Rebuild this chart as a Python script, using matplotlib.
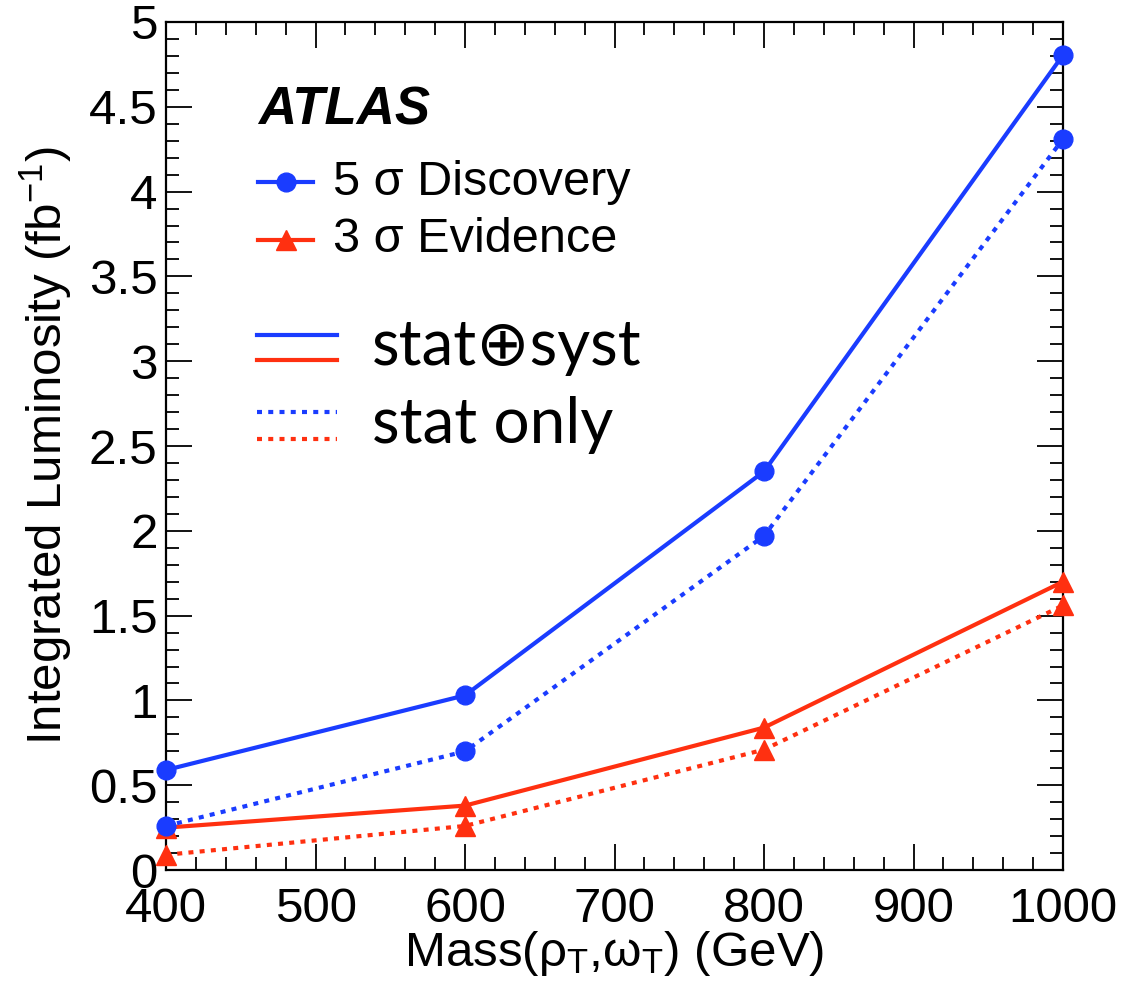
import matplotlib
matplotlib.use("Agg")
import matplotlib.pyplot as plt
from matplotlib.lines import Line2D
from matplotlib.ticker import MultipleLocator

plt.rcParams['font.family'] = ['Liberation Sans', 'DejaVu Sans']
plt.rcParams['mathtext.fontset'] = 'custom'
plt.rcParams['mathtext.rm'] = 'Liberation Sans'
plt.rcParams['mathtext.it'] = 'Liberation Sans:italic'

# Resonance masses (GeV)
mass = [400, 600, 800, 1000]

# Integrated luminosity needed (fb^-1)
disc_statsyst = [0.59, 1.03, 2.35, 4.805]
disc_stat = [0.26, 0.70, 1.97, 4.31]
evid_statsyst = [0.25, 0.38, 0.84, 1.70]
evid_stat = [0.09, 0.26, 0.71, 1.56]

BLUE = '#1a3cff'
RED = '#ff3010'
LW = 3.0
DOT = (0, (1.2, 1.5))

fig = plt.figure(figsize=(11.25, 9.86), dpi=100)
ax = fig.add_axes([0.1476, 0.1176, 0.7973, 0.8601])

ax.plot(mass, evid_stat, color=RED, lw=LW, ls=DOT, marker='^', ms=14,
        clip_on=False, zorder=3)
ax.plot(mass, evid_statsyst, color=RED, lw=LW, ls='-', marker='^', ms=14,
        clip_on=False, zorder=3)
ax.plot(mass, disc_stat, color=BLUE, lw=LW, ls=DOT, marker='o', ms=13.5,
        clip_on=False, zorder=4)
ax.plot(mass, disc_statsyst, color=BLUE, lw=LW, ls='-', marker='o', ms=13.5,
        clip_on=False, zorder=4)

ax.set_xlim(400, 1000)
ax.set_ylim(0, 5)
ax.xaxis.set_major_locator(MultipleLocator(100))
ax.xaxis.set_minor_locator(MultipleLocator(20))
ax.yaxis.set_major_locator(MultipleLocator(0.5))
ax.yaxis.set_minor_locator(MultipleLocator(0.1))
ax.yaxis.set_major_formatter(plt.FuncFormatter(lambda v, p: f"{v:g}"))

for s in ax.spines.values():
    s.set_linewidth(1.6)
ax.tick_params(which='both', direction='in', top=True, right=True, width=1.3)
ax.tick_params(which='major', length=19, labelsize=35.5)
ax.tick_params(which='minor', length=9.5)
ax.tick_params(axis='x', which='major', pad=12)
ax.tick_params(axis='y', which='major', pad=6)

ax.set_xlabel(r'Mass(ρ$_{\mathrm{T}}$,ω$_{\mathrm{T}}$) (GeV)', fontsize=35.5, labelpad=-2)
ax.set_ylabel(r'Integrated Luminosity (fb$^{\mathrm{-1}}$)', fontsize=35.5, labelpad=10)

# Labels and legend block
tr = ax.transAxes
ax.text(0.1026, 0.896, 'ATLAS', transform=tr, fontsize=38, fontweight='bold',
        fontstyle='italic', va='center', ha='left')

def key(y, color, ls, marker=None, x0=0.1026, x1=0.1639, ms=13.5):
    ax.add_line(Line2D([x0, x1], [y, y], transform=tr, color=color, lw=LW, ls=ls,
                       clip_on=False))
    if marker:
        ax.add_line(Line2D([(x0 + x1) / 2], [y], transform=tr, color=color,
                           marker=marker, ms=ms, ls='none', clip_on=False))

key(0.811, BLUE, '-', 'o')
key(0.743, RED, '-', '^', ms=14)
ax.text(0.186, 0.811, '5 σ Discovery', transform=tr, fontsize=35, va='center')
ax.text(0.186, 0.743, '3 σ Evidence', transform=tr, fontsize=35, va='center')

key(0.631, BLUE, '-', x0=0.101, x1=0.191)
key(0.601, RED, '-', x0=0.101, x1=0.191)
key(0.540, BLUE, DOT, x0=0.101, x1=0.191)
key(0.508, RED, DOT, x0=0.101, x1=0.191)
ax.text(0.2297, 0.5955, 'stat⊕syst', transform=tr, fontsize=46, va='baseline',
        family=['Lato', 'DejaVu Sans'])
ax.text(0.2297, 0.5035, 'stat only', transform=tr, fontsize=46, va='baseline',
        family=['Lato', 'DejaVu Sans'])

fig.savefig('out.png', dpi=100)
